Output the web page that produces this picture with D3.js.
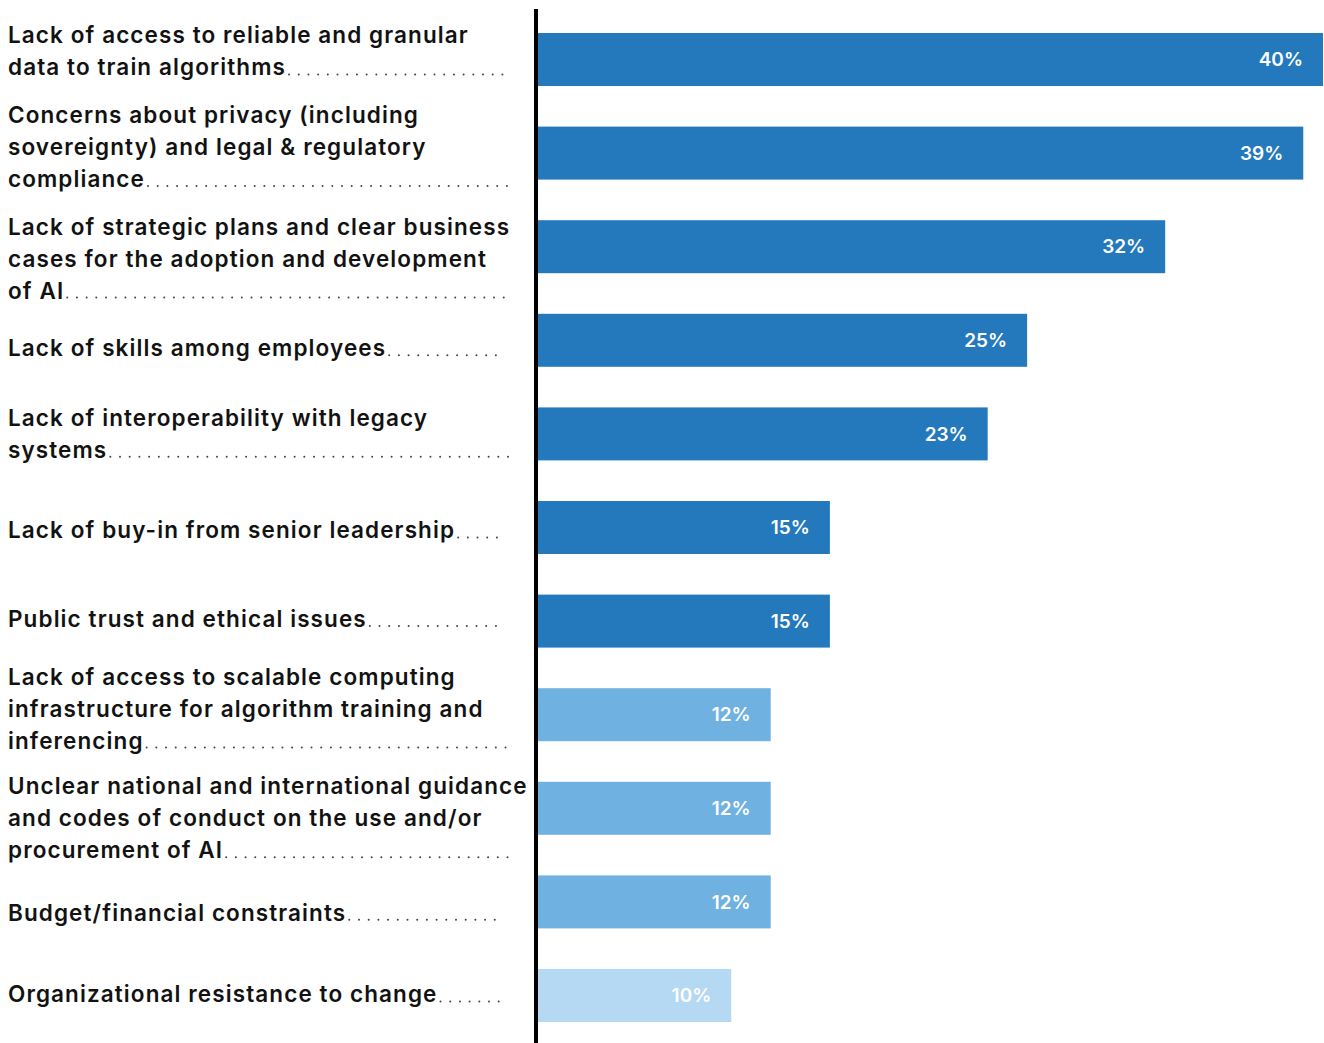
<!DOCTYPE html>
<html>
<head>
<meta charset="utf-8">
<script src="https://cdn.jsdelivr.net/npm/d3@7"></script>
<style>
  html, body { margin: 0; padding: 0; background: #fff; }
  svg { display: block; }
</style>
</head>
<body>
<svg id="chart" width="1324" height="1043"></svg>
<script>
// Barriers to AI adoption: share of respondents (%)
const categories = [
  "Lack of access to reliable and granular\ndata to train algorithms",
  "Concerns about privacy (including\nsovereignty) and legal & regulatory\ncompliance",
  "Lack of strategic plans and clear business\ncases for the adoption and development\nof AI",
  "Lack of skills among employees",
  "Lack of interoperability with legacy\nsystems",
  "Lack of buy-in from senior leadership",
  "Public trust and ethical issues",
  "Lack of access to scalable computing\ninfrastructure for algorithm training and\ninferencing",
  "Unclear national and international guidance\nand codes of conduct on the use and/or\nprocurement of AI",
  "Budget/financial constraints",
  "Organizational resistance to change"
];
const values = [40, 39, 32, 25, 23, 15, 15, 12, 12, 12, 10];
// colour tier for each bar: 0 = top tier, 1 = middle, 2 = lowest
const tiers = [0, 0, 0, 0, 0, 0, 0, 1, 1, 1, 2];

const tierColors = ["#2479bd", "#6fb1e0", "#b5d9f3"];
// small vertical nudges of the label blocks relative to the bar centre
const labelNudge = [-8, -6, 12, 8, 0, 3, -2, -6, 10, 11, -1];

const svg = d3.select("#chart");
const W = 1324, H = 1043;
const x0 = 534;
const labelFont = "Inter, 'Open Sans', sans-serif";

const x = d3.scaleLinear().domain([0, 40]).range([x0, 1323]);
const y = d3.scaleBand()
  .domain(d3.range(categories.length))
  .range([12.7, 1042.3])
  .paddingInner(0.434)
  .paddingOuter(0.217);

// bars
svg.append("g").selectAll("rect")
  .data(values)
  .join("rect")
  .attr("x", x(0))
  .attr("y", (d, i) => y(i))
  .attr("width", d => x(d) - x(0))
  .attr("height", y.bandwidth())
  .attr("fill", (d, i) => tierColors[tiers[i]]);

// value labels inside the bar ends
svg.append("g").selectAll("text")
  .data(values)
  .join("text")
  .attr("x", d => x(d) - 20)
  .attr("y", (d, i) => y(i) + y.bandwidth() / 2)
  .attr("dy", "0.35em")
  .attr("text-anchor", "end")
  .attr("fill", "#fff")
  .attr("font-family", labelFont)
  .attr("font-weight", 600)
  .attr("font-size", 19)
  .text(d => d + "%");

// category labels with dotted leaders
const fontSize = 22.5, lineH = 32;
const labelG = svg.append("g")
  .attr("font-family", labelFont)
  .attr("font-weight", 600)
  .attr("font-size", fontSize)
  .attr("letter-spacing", 1.1)
  .attr("fill", "#121212");

categories.forEach((c, i) => {
  const lines = c.split("\n");
  const cy = y(i) + y.bandwidth() / 2 + labelNudge[i];
  const firstMid = cy - (lines.length - 1) * lineH / 2;
  const t = labelG.append("text").attr("x", 8);
  lines.forEach((ln, k) => {
    t.append("tspan")
      .attr("x", 8)
      .attr("y", firstMid + k * lineH)
      .attr("dy", "0.35em")
      .text(ln);
  });
  // leader dots run from the end of the last line towards the axis
  const last = t.selectAll("tspan").nodes()[lines.length - 1];
  const endX = 8 + last.getComputedTextLength();
  const stopX = lines.length > 1 ? 509 : 499;
  const dotY = firstMid + (lines.length - 1) * lineH + fontSize * 0.35 - 1;
  const dots = d3.range(endX + 3, stopX, 9.7);
  svg.append("g").selectAll("circle")
    .data(dots)
    .join("circle")
    .attr("cx", d => d)
    .attr("cy", dotY)
    .attr("r", 1)
    .attr("fill", "#444");
});

// vertical baseline axis
svg.append("line")
  .attr("x1", x0 + 2).attr("x2", x0 + 2)
  .attr("y1", 9).attr("y2", H)
  .attr("stroke", "#000")
  .attr("stroke-width", 4);
</script>
</body>
</html>
